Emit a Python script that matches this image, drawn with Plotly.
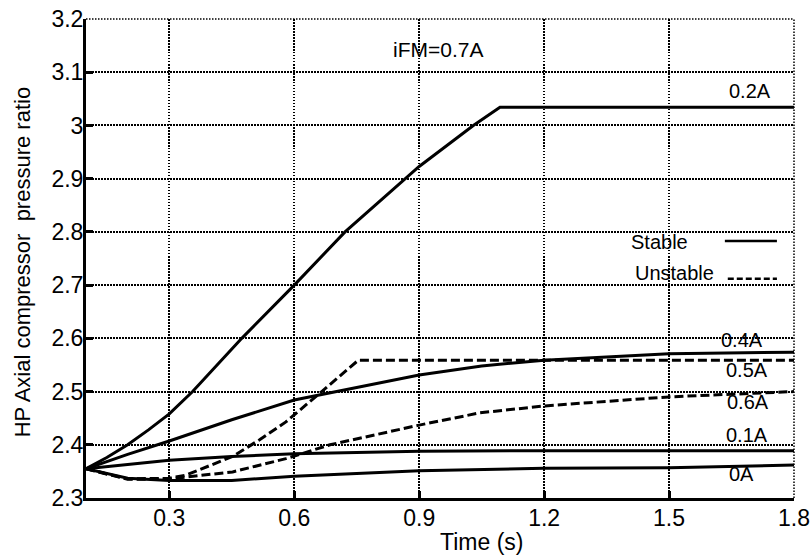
import plotly.graph_objects as go

# ---- data ----
t_0p2A = [0.1, 0.15, 0.2, 0.25, 0.3, 0.356, 0.474, 0.6, 0.722, 0.866, 0.9, 1.03, 1.094, 1.8]
p_0p2A = [2.355, 2.376, 2.4, 2.428, 2.458, 2.5, 2.6, 2.7, 2.8, 2.9, 2.923, 3.0, 3.034, 3.034]

t_0p4A = [0.1, 0.2, 0.3, 0.45, 0.6, 0.75, 0.9, 1.05, 1.2, 1.5, 1.8]
p_0p4A = [2.355, 2.382, 2.407, 2.447, 2.484, 2.508, 2.531, 2.548, 2.559, 2.571, 2.574]

t_0p5A = [0.1, 0.2, 0.3, 0.34, 0.452, 0.516, 0.58, 0.6, 0.666, 0.754, 1.8]
p_0p5A = [2.355, 2.336, 2.337, 2.343, 2.378, 2.409, 2.443, 2.456, 2.5, 2.559, 2.559]

t_0p6A = [0.1, 0.2, 0.3, 0.452, 0.58, 0.6, 0.686, 0.9, 1.046, 1.2, 1.5, 1.8]
p_0p6A = [2.355, 2.335, 2.336, 2.349, 2.374, 2.379, 2.4, 2.437, 2.46, 2.473, 2.49, 2.5]

t_0p1A = [0.1, 0.2, 0.3, 0.45, 0.6, 0.9, 1.2, 1.8]
p_0p1A = [2.355, 2.363, 2.371, 2.378, 2.383, 2.388, 2.389, 2.389]

t_0A = [0.1, 0.2, 0.3, 0.45, 0.6, 0.9, 1.2, 1.5, 1.8]
p_0A = [2.355, 2.337, 2.333, 2.333, 2.341, 2.351, 2.356, 2.357, 2.362]

x_ticks = [0.3, 0.6, 0.9, 1.2, 1.5, 1.8]
x_ticklabels = ["0.3", "0.6", "0.9", "1.2", "1.5", "1.8"]
y_ticks = [2.3, 2.4, 2.5, 2.6, 2.7, 2.8, 2.9, 3.0, 3.1, 3.2]
y_ticklabels = ["2.3", "2.4", "2.5", "2.6", "2.7", "2.8", "2.9", "3", "3.1", "3.2"]

curve_labels = ["0.2A", "0.4A", "0.5A", "0.6A", "0.1A", "0A"]
label_x = [1.694, 1.674, 1.687, 1.69, 1.687, 1.674]
label_y = [3.065, 2.597, 2.541, 2.481, 2.418, 2.346]

FONT = "Liberation Sans, Arial, Helvetica, sans-serif"
DASH = "9px,4px"

fig = go.Figure()
series = [
    (t_0p2A, p_0p2A, "solid"),
    (t_0p4A, p_0p4A, "solid"),
    (t_0p5A, p_0p5A, DASH),
    (t_0p6A, p_0p6A, DASH),
    (t_0p1A, p_0p1A, "solid"),
    (t_0A, p_0A, "solid"),
]
for (t, p, d), name in zip(series, curve_labels):
    fig.add_trace(go.Scatter(x=t, y=p, mode="lines", name=name,
                             line=dict(color="black", width=3, dash=d),
                             showlegend=False, cliponaxis=False))

for txt, lx, ly in zip(curve_labels, label_x, label_y):
    fig.add_annotation(x=lx, y=ly, text=txt, showarrow=False,
                       xanchor="center", yanchor="middle",
                       font=dict(family=FONT, size=20, color="black"))

fig.add_annotation(x=0.944, y=3.142, text="iFM=0.7A", showarrow=False,
                   xanchor="center", yanchor="middle",
                   font=dict(family=FONT, size=21, color="black"))

# legend (text left, line sample right)
fig.add_annotation(x=1.478, y=2.781, text="Stable", showarrow=False,
                   xanchor="center", yanchor="middle",
                   font=dict(family=FONT, size=20, color="black"))
fig.add_annotation(x=1.512, y=2.722, text="Unstable", showarrow=False,
                   xanchor="center", yanchor="middle",
                   font=dict(family=FONT, size=20, color="black"))
fig.add_shape(type="line", x0=1.634, x1=1.759, y0=2.783, y1=2.783,
              line=dict(color="black", width=2.6))
fig.add_shape(type="line", x0=1.641, x1=1.759, y0=2.712, y1=2.712,
              line=dict(color="black", width=2.6, dash="6px,3px"))

# dotted box top/right
fig.add_shape(type="line", xref="paper", yref="paper", x0=0, x1=1, y0=1, y1=1,
              line=dict(color="black", width=1.5, dash="1.5px,1.5px"))
fig.add_shape(type="line", xref="paper", yref="paper", x0=1, x1=1, y0=0, y1=1,
              line=dict(color="black", width=1.5, dash="1.5px,1.5px"))

# axis titles
fig.add_annotation(xref="paper", yref="paper", x=0.558, y=-0.091, text="Time (s)",
                   showarrow=False, xanchor="center", yanchor="middle",
                   font=dict(family=FONT, size=23, color="black"))
fig.add_annotation(xref="paper", yref="paper", x=-0.0904, y=0.494,
                   text="HP Axial compressor  pressure ratio", textangle=-90,
                   showarrow=False, xanchor="center", yanchor="middle",
                   font=dict(family=FONT, size=22, color="black"))

fig.update_layout(
    width=812, height=559,
    margin=dict(l=86, r=18, t=19, b=61, autoexpand=False),
    paper_bgcolor="white", plot_bgcolor="white",
    font=dict(family=FONT, size=23, color="black"),
    xaxis=dict(range=[0.1, 1.8], tickvals=x_ticks, ticktext=x_ticklabels,
               showgrid=True, gridcolor="black", gridwidth=1.5, griddash="1.5px,1.5px",
               showline=True, linecolor="black", linewidth=3,
               ticks="inside", ticklen=7, tickwidth=2.5, tickcolor="black",
               ticklabelstandoff=-3, ticklabeloverflow="allow",
               zeroline=False, automargin=False, tickfont=dict(family=FONT, size=23)),
    yaxis=dict(range=[2.3, 3.2], tickvals=y_ticks, ticktext=y_ticklabels,
               showgrid=True, gridcolor="black", gridwidth=1.5, griddash="1.5px,1.5px",
               showline=True, linecolor="black", linewidth=3,
               ticks="inside", ticklen=7, tickwidth=2.5, tickcolor="black",
               ticklabelstandoff=-5, ticklabeloverflow="allow",
               zeroline=False, automargin=False, tickfont=dict(family=FONT, size=23)),
)

fig.write_html("out.html", config={"displayModeBar": False},
               post_script="document.body.style.margin='0';document.body.style.overflow='hidden';")
